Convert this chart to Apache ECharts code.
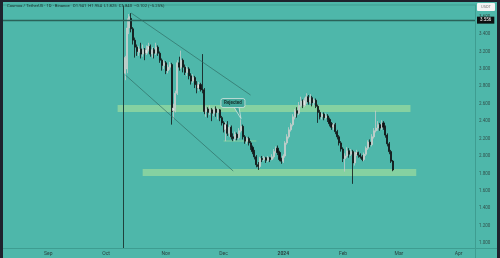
<!DOCTYPE html>
<html><head><meta charset="utf-8">
<script src="https://cdn.jsdelivr.net/npm/echarts@6/dist/echarts.min.js"></script>
<style>html,body{margin:0;padding:0;background:#1e222d;}#c{width:500px;height:258px;}</style>
</head><body><div id="c"></div>
<script>
// ---- data ----
const startDate = '2023-08-09';
const endDate = '2024-04-09';
const firstCandle = '2023-10-11';
const opens = [
2.95,3.00,3.47,3.58,3.46,3.33,3.25,3.19,3.23,3.17,
3.22,3.18,3.22,3.26,3.17,3.22,3.18,3.25,3.18,3.10,
3.04,3.07,2.98,3.02,3.05,2.52,2.55,2.72,3.07,3.02,
3.10,3.02,2.96,3.00,2.92,2.86,2.90,2.82,2.78,2.82,
2.77,2.76,2.51,2.54,2.50,2.53,2.49,2.54,2.50,2.53,
2.44,2.38,2.30,2.36,2.26,2.33,2.22,2.20,2.25,2.21,
2.29,2.34,2.22,2.17,2.20,2.15,2.10,2.05,1.99,1.90,
1.88,1.97,1.96,1.98,1.95,1.98,1.96,1.99,2.05,2.09,
2.04,1.96,1.94,2.00,2.15,2.22,2.30,2.36,2.45,2.52,
2.49,2.58,2.63,2.58,2.64,2.68,2.62,2.67,2.61,2.64,
2.57,2.50,2.45,2.48,2.44,2.46,2.42,2.37,2.33,2.36,
2.28,2.22,2.15,2.08,1.97,2.00,2.06,2.02,2.05,1.92,
2.02,2.04,2.01,1.99,1.96,2.02,2.09,2.16,2.13,2.22,
2.29,2.32,2.36,2.32,2.38,2.33,2.24,2.14,2.05,1.941];
const closes = [
3.13,3.47,3.60,3.46,3.33,3.25,3.20,3.23,3.17,3.22,
3.18,3.22,3.26,3.17,3.22,3.18,3.25,3.18,3.10,3.04,
3.07,2.98,3.02,3.05,2.51,2.55,2.72,3.07,3.02,3.10,
3.02,2.96,3.00,2.92,2.86,2.90,2.82,2.78,2.82,2.77,
2.76,2.51,2.54,2.50,2.53,2.49,2.54,2.50,2.53,2.44,
2.38,2.30,2.36,2.26,2.33,2.22,2.20,2.25,2.21,2.29,
2.34,2.22,2.17,2.20,2.15,2.10,2.05,1.99,1.90,1.88,
1.97,1.96,1.98,1.95,1.98,1.96,1.99,2.05,2.09,2.04,
1.96,1.94,2.00,2.15,2.22,2.30,2.36,2.45,2.52,2.49,
2.58,2.63,2.58,2.64,2.68,2.62,2.67,2.61,2.64,2.57,
2.50,2.45,2.48,2.44,2.46,2.42,2.37,2.33,2.36,2.28,
2.22,2.15,2.08,1.97,2.00,2.06,2.02,2.05,1.92,2.02,
2.04,2.01,1.99,1.96,2.02,2.09,2.16,2.13,2.22,2.29,
2.32,2.36,2.32,2.38,2.33,2.24,2.14,2.05,1.94,1.840];
const lows = [
2.87,2.95,3.40,3.42,3.28,3.13,3.15,3.15,3.12,3.14,
3.10,3.16,3.20,3.14,3.13,3.12,3.16,3.15,3.07,2.98,
3.00,2.94,2.95,2.99,2.36,2.42,2.50,2.70,2.98,3.00,
2.96,2.93,2.92,2.88,2.82,2.84,2.78,2.72,2.75,2.74,
2.72,2.48,2.45,2.44,2.47,2.40,2.46,2.45,2.42,2.40,
2.35,2.27,2.17,2.23,2.22,2.19,2.17,2.17,2.18,2.19,
2.27,2.19,2.14,2.14,2.12,2.07,2.02,1.96,1.87,1.84,
1.86,1.93,1.94,1.92,1.93,1.93,1.95,1.97,2.03,2.01,
1.94,1.91,1.92,1.98,2.13,2.20,2.28,2.34,2.42,2.44,
2.47,2.56,2.55,2.56,2.60,2.59,2.60,2.57,2.58,2.55,
2.38,2.42,2.42,2.41,2.42,2.39,2.34,2.30,2.30,2.25,
2.19,2.12,2.05,1.93,1.82,1.98,1.98,2.00,1.68,1.89,
2.00,1.98,1.97,1.94,1.94,2.00,2.07,2.10,2.11,2.20,
2.27,2.29,2.29,2.30,2.30,2.21,2.11,2.02,1.92,1.825];
const highs = [
3.15,3.58,3.63,3.64,3.48,3.36,3.28,3.26,3.30,3.28,
3.24,3.27,3.30,3.28,3.25,3.24,3.30,3.27,3.20,3.12,
3.10,3.09,3.05,3.08,3.07,2.60,2.75,3.10,3.14,3.21,
3.12,3.05,3.03,3.02,2.95,2.94,2.92,2.86,2.85,2.84,
3.17,2.78,2.57,2.56,2.58,2.55,2.56,2.57,2.55,2.54,
2.46,2.40,2.39,2.40,2.36,2.35,2.26,2.28,2.27,2.32,
2.42,2.36,2.24,2.22,2.22,2.17,2.12,2.07,2.01,1.93,
1.99,2.00,2.00,1.99,2.00,1.99,2.02,2.08,2.11,2.12,
2.06,1.98,2.02,2.17,2.25,2.33,2.38,2.48,2.54,2.56,
2.62,2.68,2.65,2.67,2.72,2.70,2.71,2.69,2.66,2.66,
2.59,2.53,2.50,2.50,2.49,2.48,2.44,2.39,2.38,2.38,
2.30,2.24,2.17,2.10,2.03,2.10,2.09,2.08,2.07,2.05,
2.07,2.05,2.03,2.01,2.04,2.11,2.18,2.19,2.25,2.32,
2.52,2.40,2.38,2.41,2.40,2.35,2.26,2.16,2.07,1.954];
const yTickValues = [1.0,1.2,1.4,1.6,1.8,2.0,2.2,2.4,2.6,2.8,3.0,3.2,3.4,3.6];
const monthLabels = ['2024','Feb','Mar','Apr','May','Jun','Jul','Aug','Sep','Oct','Nov','Dec'];
const yMin = 0.943, yMax = 3.734;
const zoneUpper = {from:'2023-10-07', to:'2024-03-07', lo:2.505, hi:2.585};
const zoneLower = {from:'2023-10-20', to:'2024-03-10', lo:1.769, hi:1.850};
const zoneSmall = {from:'2023-12-01', to:'2023-12-18', lo:2.165, hi:2.178};
const channelUpper = [['2023-10-14', 3.642], ['2023-12-15', 2.700]];
const channelLower = [['2023-10-11', 2.930], ['2023-12-06', 1.827]];
const verticalLineDate = '2023-10-10';
const levelLine = 3.556;
const lastPrice = 1.840;
const lastTime = '05:51:45';
const rejectPoint = ['2023-12-10', 2.43];
const titleText = 'Cosmos / TetherUS · 1D · Binance   O1.941  H1.954  L1.825  C1.840  −0.102 (−5.25%)';

// ---- build ----
function fmt(d){return d.toISOString().slice(0,10);}
const categories = [];
for (let d = new Date(startDate+'T00:00:00Z'); fmt(d) <= endDate; d.setUTCDate(d.getUTCDate()+1)) categories.push(fmt(d));
const firstIdx = categories.indexOf(firstCandle);
const candleData = categories.map((c,i)=>{
  const k = i - firstIdx;
  if (k >= 0 && k < opens.length) return [opens[k], closes[k], lows[k], highs[k]];
  return '-';
});

const TEAL = '#4eb7aa', AXIS = '#3e9d91', FONT = 'Roboto';
const chart = echarts.init(document.getElementById('c'), null, {renderer:'canvas'});
const zoneStyle = {color:'#8fd6a0', opacity:0.85};
chart.setOption({
  animation:false,
  backgroundColor: TEAL,
  textStyle:{fontFamily:FONT},
  grid:{left:3, right:25, top:5, bottom:10},
  xAxis:{
    type:'category', data:categories, boundaryGap:true,
    axisLine:{show:true, lineStyle:{color:AXIS, width:1}},
    axisTick:{show:false}, splitLine:{show:false},
    axisLabel:{
      interval:(i,v)=>v.endsWith('-01'),
      formatter:(v)=>{const m=+v.slice(5,7); return m===1?'{b|'+monthLabels[0]+'}':monthLabels[m-1];},
      fontSize:5, color:'#2a3f3c', margin:3, fontFamily:FONT,
      rich:{b:{fontSize:5, fontWeight:'bold', color:'#2a3f3c', fontFamily:FONT}}
    }
  },
  yAxis:{
    type:'value', position:'right', min:yMin, max:yMax, scale:true,
    axisLine:{show:true, lineStyle:{color:AXIS, width:1}},
    axisTick:{show:false}, splitLine:{show:false},
    axisLabel:{customValues:yTickValues, formatter:(v)=>v.toFixed(3), fontSize:4.5, color:'#33504b', margin:4, fontFamily:FONT}
  },
  series:[{
    type:'candlestick', data:candleData, barWidth:1.6,
    itemStyle:{color:'#e2e8e5', color0:'#101314', borderColor:'#c3cdc9', borderColor0:'#101314', borderWidth:0.8},
    markArea:{silent:true, data:[
      [{xAxis:zoneUpper.from, yAxis:zoneUpper.lo, itemStyle:zoneStyle},{xAxis:zoneUpper.to, yAxis:zoneUpper.hi}],
      [{xAxis:zoneLower.from, yAxis:zoneLower.lo, itemStyle:zoneStyle},{xAxis:zoneLower.to, yAxis:zoneLower.hi}],
      [{xAxis:zoneSmall.from, yAxis:zoneSmall.lo, itemStyle:zoneStyle},{xAxis:zoneSmall.to, yAxis:zoneSmall.hi}]
    ]},
    markLine:{silent:true, symbol:['none','none'], animation:false, data:[
      {xAxis:verticalLineDate, lineStyle:{color:'#1f423d', width:1, type:'solid'}, label:{show:false}},
      {yAxis:levelLine, lineStyle:{color:'#2a6259', width:1.3, type:'solid'},
       label:{show:true, position:'end', distance:2, formatter:levelLine.toFixed(3), backgroundColor:'#0d0f10', color:'#fff', fontSize:4.5, padding:[1,3], fontFamily:FONT}},
      {yAxis:lastPrice, lineStyle:{opacity:0},
       label:{show:true, position:'end', distance:2, formatter:'{a|'+lastPrice.toFixed(3)+'}\n{b|'+lastTime+'}', backgroundColor:'#0d0f10', padding:[1,3],
         rich:{a:{fontSize:5, fontWeight:'bold', color:'#fff', lineHeight:5, fontFamily:FONT}, b:{fontSize:3.5, color:'#ddd', lineHeight:4, fontFamily:FONT}}}},
      [{coord:channelUpper[0], lineStyle:{color:'#2f6e66', width:0.7, type:'solid'}, label:{show:false}},{coord:channelUpper[1]}],
      [{coord:channelLower[0], lineStyle:{color:'#2f6e66', width:0.7, type:'solid'}, label:{show:false}},{coord:channelLower[1]}]
    ]}
  }],
  graphic:[
    {id:'bl', type:'rect', left:0, top:0, shape:{width:3, height:258}, style:{fill:'#1e222d'}, z:100},
    {id:'bt', type:'rect', left:0, top:0, shape:{width:500, height:2}, style:{fill:'#1e222d'}, z:100},
    {id:'br', type:'rect', left:497, top:0, shape:{width:3, height:258}, style:{fill:'#1e222d'}, z:100},
    {id:'lt', type:'line', shape:{x1:3, y1:5, x2:475, y2:5}, style:{stroke:AXIS, lineWidth:1}, z:50},
    {id:'lb', type:'line', shape:{x1:475, y1:248.5, x2:497, y2:248.5}, style:{stroke:AXIS, lineWidth:1}, z:50},
    {id:'lv', type:'line', shape:{x1:475.5, y1:248, x2:475.5, y2:258}, style:{stroke:AXIS, lineWidth:1}, z:50},
    {id:'ttl', type:'text', left:7, top:4, style:{text:titleText, fontSize:4.2, fill:'#1c302d', fontFamily:FONT}, z:60},
    {id:'ub', type:'rect', left:477, top:3, shape:{width:18, height:8, r:1}, style:{fill:'#f3f5f4'}, z:60},
    {id:'ut', type:'text', x:486, y:7, style:{text:'USDT', fontSize:4, fill:'#777', align:'center', verticalAlign:'middle', fontFamily:FONT}, z:61}
  ]
});

const p = chart.convertToPixel({gridIndex:0}, rejectPoint);
const ax = p[0], ay = p[1];
chart.setOption({graphic:[
  {id:'rtail', type:'polygon', shape:{points:[[ax-7, ay-11.5],[ax-2, ay-11.5],[ax, ay]]}, style:{fill:'#43a89b', stroke:'#d8e4e0', lineWidth:0.8}, z:70},
  {id:'rbox', type:'rect', shape:{x:ax-20, y:ay-20, width:24, height:9, r:2}, style:{fill:'#43a89b', stroke:'#d8e4e0', lineWidth:0.8}, z:71},
  {id:'rtxt', type:'text', x:ax-8, y:ay-15.5, style:{text:'Rejected', fontSize:4.5, fontWeight:'bold', fill:'#15302c', align:'center', verticalAlign:'middle', fontFamily:FONT}, z:72}
]});
</script>
</body></html>
